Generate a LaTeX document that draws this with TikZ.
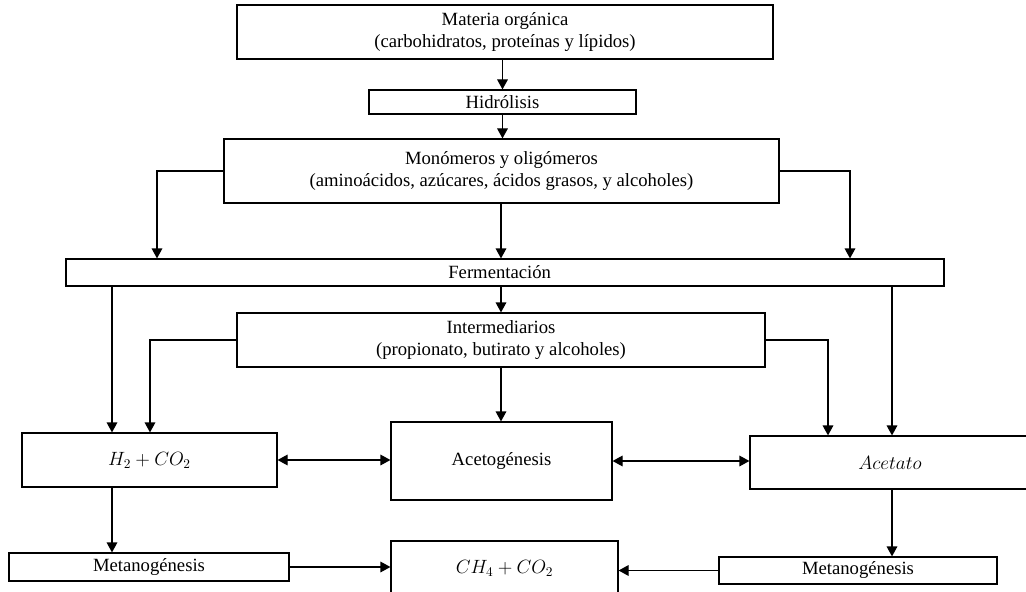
\documentclass[tikz,border=0pt]{standalone}
\usepackage{fontspec}
\setmainfont{Liberation Serif}
\usetikzlibrary{arrows.meta}
\begin{document}
\begin{tikzpicture}[x=0.75pt,y=-0.75pt,
  box/.style={draw, line width=0.9pt, rectangle, inner sep=0pt, align=center, font=\fontsize{14}{17}\selectfont},
  sz/.style 2 args={minimum width=#1*0.75pt, minimum height=#2*0.75pt},
  arr/.style={line width=0.9pt, -{Triangle[width=8pt,length=7.5pt]}},
  darr/.style={line width=0.9pt, {Triangle[width=8pt,length=7.5pt]}-{Triangle[width=8pt,length=7.5pt]}}]
\useasboundingbox (0,0) rectangle (1026,592);
\clip (0,0) rectangle (1026,592);

\node[box, sz={536}{54}] (mat) at (505,32) {Materia orgánica\\(carbohidratos, proteínas y lípidos)};
\node[box, sz={267}{24}] (hid) at (502.5,102) {Hidrólisis};
\node[box, sz={555}{64}] (mon) at (501.5,171) {Monómeros y oligómeros\\(aminoácidos, azúcares, ácidos grasos, y alcoholes)};
\node[box, sz={878}{27}] (fer) at (505,272.5) {\hspace*{-8pt}Fermentación};
\node[box, sz={528}{54}] (int) at (501,340) {Intermediarios\\(propionato, butirato y alcoholes)};
\node[box, sz={255}{54}] (h2) at (149.5,460) {$H_2+CO_2$};
\node[box, sz={221}{78}] (acg) at (501.5,461) {Acetogénesis};
\node[box, sz={280}{53}] (ace) at (890,462.5) {$Acetato$};
\node[box, sz={280}{28}] (met1) at (149,567) {Metanogénesis};
\node[box, sz={227}{54}] (ch4) at (504.5,568) {$CH_4+CO_2$};
\node[box, sz={278}{27}] (met2) at (858,570.5) {Metanogénesis};

\coordinate (xa) at (157,0);
\coordinate (xb) at (850,0);
\coordinate (xc) at (112,0);
\coordinate (xd) at (150,0);
\coordinate (xe) at (828,0);
\coordinate (xf) at (892,0);
\coordinate (xm) at (501,0);

\draw[arr] (hid.north |- mat.south) -- (hid.north);
\draw[arr] (hid.south) -- (hid.south |- mon.north);
\draw[arr] (mon.west) -| (xa |- fer.north);
\draw[arr] (mon.east) -| (xb |- fer.north);
\draw[arr] (xm |- mon.south) -- (xm |- fer.north);
\draw[arr] (xc |- fer.south) -- (xc |- h2.north);
\draw[arr] (xf |- fer.south) -- (xf |- ace.north);
\draw[arr] (xm |- fer.south) -- (xm |- int.north);
\draw[arr] (int.west) -| (xd |- h2.north);
\draw[arr] (int.east) -| (xe |- ace.north);
\draw[arr] (xm |- int.south) -- (xm |- acg.north);
\draw[darr] (h2.east) -- (h2.east -| acg.west);
\draw[darr] (acg.east) -- (acg.east -| ace.west);
\draw[arr] (xc |- h2.south) -- (xc |- met1.north);
\draw[arr] (xf |- ace.south) -- (xf |- met2.north);
\draw[arr] (met1.east) -- (met1.east -| ch4.west);
\draw[arr] (met2.west) -- (met2.west -| ch4.east);
\end{tikzpicture}
\end{document}
